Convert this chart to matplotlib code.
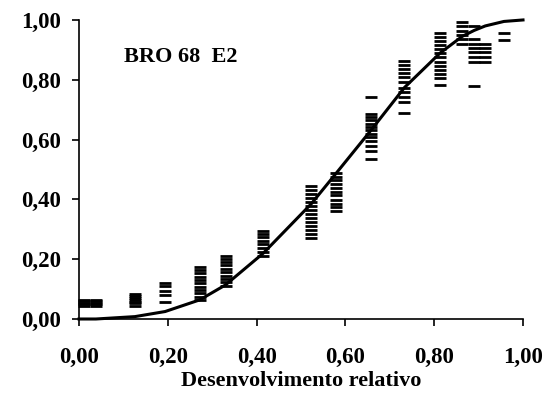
import matplotlib
matplotlib.use('Agg')
import matplotlib.pyplot as plt
from matplotlib.ticker import FuncFormatter

# observed values: one x per group, several y per group
obs_x = [0.012, 0.038, 0.126, 0.194, 0.272, 0.33, 0.415, 0.523,
         0.579, 0.657, 0.733, 0.813, 0.863, 0.89, 0.915, 0.957]
obs_y = [
    [0.045, 0.05, 0.055, 0.06, 0.065],
    [0.045, 0.05, 0.055, 0.06, 0.065],
    [0.045, 0.052, 0.058, 0.064, 0.07, 0.076, 0.082],
    [0.058, 0.08, 0.095, 0.11, 0.12],
    [0.064, 0.075, 0.086, 0.097, 0.108, 0.12, 0.131, 0.142, 0.153, 0.164, 0.175],
    [0.112, 0.123, 0.134, 0.145, 0.157, 0.168, 0.179, 0.19, 0.201, 0.212],
    [0.212, 0.224, 0.237, 0.251, 0.262, 0.273, 0.284, 0.295],
    [0.27, 0.283, 0.297, 0.31, 0.323, 0.337, 0.35, 0.363, 0.377, 0.39,
     0.403, 0.417, 0.43, 0.444],
    [0.36, 0.375, 0.386, 0.399, 0.413, 0.425, 0.439, 0.453, 0.465, 0.476, 0.489],
    [0.534, 0.561, 0.578, 0.595, 0.608, 0.62, 0.631, 0.642, 0.653, 0.664,
     0.675, 0.687, 0.743],
    [0.69, 0.726, 0.744, 0.758, 0.774, 0.791, 0.808, 0.822, 0.836, 0.849, 0.863],
    [0.782, 0.805, 0.819, 0.833, 0.847, 0.86, 0.875, 0.889, 0.903, 0.916,
     0.928, 0.942, 0.956],
    [0.919, 0.936, 0.95, 0.964, 0.979, 0.992],
    [0.78, 0.86, 0.877, 0.892, 0.905, 0.919, 0.936, 0.98],
    [0.86, 0.877, 0.892, 0.905, 0.919],
    [0.934, 0.956],
]

# fitted curve
fit_x = [0.0, 0.038, 0.126, 0.194, 0.272, 0.33, 0.415, 0.523, 0.579,
         0.657, 0.733, 0.813, 0.863, 0.89, 0.915, 0.957, 1.0]
fit_y = [0.0, 0.0, 0.008, 0.025, 0.064, 0.114, 0.22, 0.385, 0.487,
         0.63, 0.774, 0.889, 0.945, 0.965, 0.98, 0.995, 1.0]

ticks = [0.0, 0.2, 0.4, 0.6, 0.8, 1.0]

plt.rcParams['font.family'] = 'Liberation Serif'
plt.rcParams['font.weight'] = 'bold'

fig = plt.figure(figsize=(5.51, 3.99), dpi=100)
ax = fig.add_axes([0.1434, 0.2005, 0.8058, 0.7495])

xs = []
ys = []
for x, group in zip(obs_x, obs_y):
    for y in group:
        xs.append(x)
        ys.append(y)
ax.plot(xs, ys, linestyle='none', marker='_', markersize=8,
        markeredgewidth=2.0, color='black', clip_on=False)

ax.plot(fit_x, fit_y, color='black', linewidth=2.2, clip_on=False)

ax.set_xlim(0, 1)
ax.set_ylim(0, 1)
ax.set_xticks(ticks)
ax.set_yticks(ticks)
fmt = FuncFormatter(lambda v, p: ('%.2f' % v).replace('.', ','))
ax.xaxis.set_major_formatter(fmt)
ax.yaxis.set_major_formatter(fmt)

for s in ['top', 'right']:
    ax.spines[s].set_visible(False)
for s in ['left', 'bottom']:
    ax.spines[s].set_linewidth(1.2)

ax.tick_params(axis='y', direction='out', length=5, width=1.2, pad=8, labelsize=16.5)
ax.tick_params(axis='x', direction='out', length=5, width=1.2, pad=15, labelsize=16.5)

ax.set_xlabel('Desenvolvimento relativo', fontsize=16, fontweight='bold', labelpad=2)
ax.text(0.102, 0.875, 'BRO 68  E2', transform=ax.transAxes, fontsize=16,
        fontweight='bold', va='center', ha='left')

fig.savefig('out.png', dpi=100)
